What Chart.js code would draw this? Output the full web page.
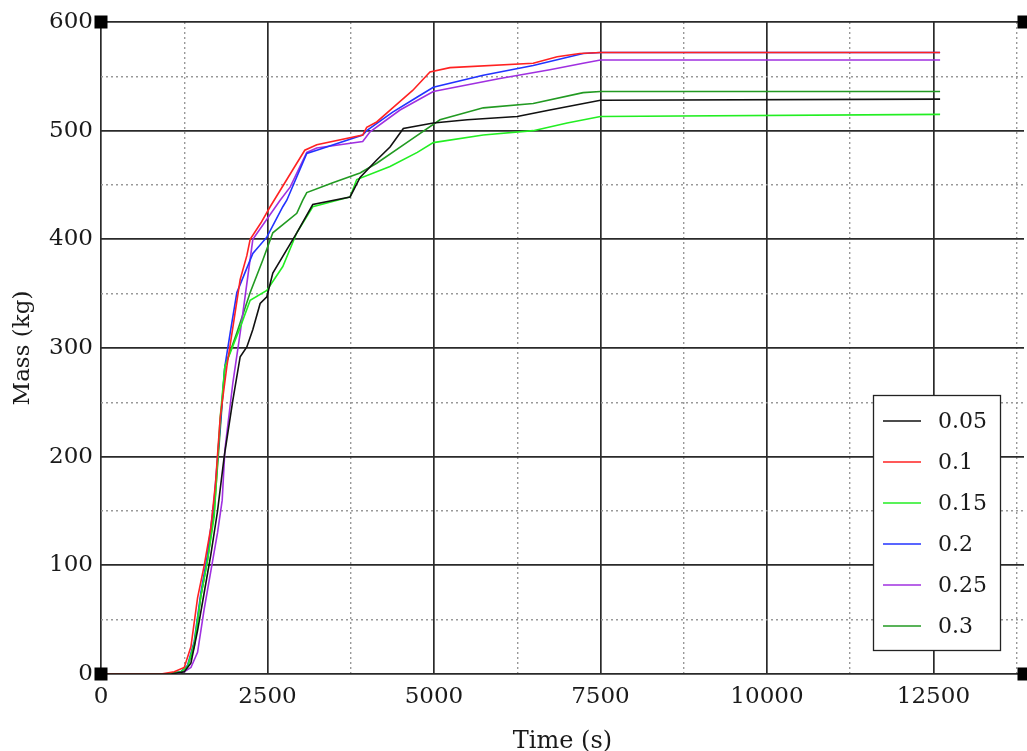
<!DOCTYPE html>
<html>
<head>
<meta charset="utf-8">
<script src="https://cdn.jsdelivr.net/npm/chart.js@4.4.1/dist/chart.umd.min.js"></script>
<style>
  html, body { margin: 0; padding: 0; background: #fff; }
  #wrap { width: 1027px; height: 751px; }
</style>
</head>
<body>
<div id="wrap"><canvas id="massa"></canvas></div>
<script>
// series labels
const labels = ['0.05', '0.1', '0.15', '0.2', '0.25', '0.3'];
const colors = ['#111111', '#ff2222', '#22ee22', '#2233ff', '#a030e0', '#229a22'];

// time (s) / mass (kg)
const t05 = [0, 1050, 1250, 1350, 1450, 1550, 1650, 1750, 1850, 1980, 2090, 2190, 2280, 2390, 2490, 2580, 2940, 3180, 3740, 3890, 4140, 4340, 4540, 4990, 5500, 6250, 6740, 7500, 12600];
const m05 = [0, 0, 2, 10, 40, 75, 110, 150, 200, 252, 292, 301, 317, 341, 347, 369, 406, 432, 439, 457, 473, 485, 502, 507, 510, 513, 519, 528, 529];

const t10 = [0, 900, 1100, 1250, 1350, 1450, 1550, 1650, 1720, 1790, 1890, 1980, 2090, 2190, 2240, 2400, 2540, 2880, 3060, 3240, 3930, 3990, 4140, 4380, 4680, 4940, 5240, 6490, 6850, 7190, 7500, 12600];
const m10 = [0, 0, 2, 6, 25, 70, 100, 135, 176, 236, 283, 319, 363, 385, 400, 415, 430, 464, 482, 487, 496, 503, 508, 521, 537, 554, 558, 562, 568, 571, 572, 572];

const t15 = [0, 1000, 1200, 1300, 1400, 1500, 1600, 1700, 1790, 1860, 2090, 2240, 2490, 2730, 2940, 3180, 3740, 3840, 4340, 4750, 4990, 5740, 6490, 7000, 7500, 12600];
const m15 = [0, 0, 2, 7, 28, 72, 105, 145, 236, 283, 319, 344, 353, 375, 406, 430, 439, 455, 467, 480, 489, 496, 500, 507, 513, 515];

const t20 = [0, 1000, 1200, 1300, 1400, 1500, 1600, 1700, 1860, 1940, 2040, 2280, 2490, 2730, 2790, 3090, 3240, 3930, 3990, 4380, 4750, 4990, 5740, 6490, 7240, 7500, 12600];
const m20 = [0, 0, 2, 8, 30, 75, 110, 160, 283, 314, 351, 387, 402, 430, 436, 479, 482, 496, 500, 517, 531, 540, 551, 560, 571, 572, 572];

const t25 = [0, 1050, 1250, 1350, 1450, 1550, 1650, 1750, 1820, 1860, 1980, 2090, 2280, 2690, 2840, 3090, 3240, 3930, 4040, 4490, 4990, 5990, 6740, 7240, 7500, 12600];
const m25 = [0, 0, 2, 6, 20, 60, 95, 130, 160, 206, 268, 314, 400, 436, 448, 480, 484, 490, 499, 519, 536, 548, 556, 562, 565, 565];

const t30 = [0, 1000, 1200, 1300, 1400, 1500, 1600, 1700, 1860, 2040, 2240, 2430, 2580, 2940, 3030, 3090, 3480, 3890, 4140, 4640, 5090, 5740, 6490, 7240, 7500, 12600];
const m30 = [0, 0, 2, 7, 25, 72, 105, 150, 283, 314, 351, 381, 406, 424, 436, 443, 452, 461, 470, 491, 510, 521, 525, 535, 536, 536];

const tempos = [t05, t10, t15, t20, t25, t30];
const massas = [m05, m10, m15, m20, m25, m30];

const fonte = '"DejaVu Serif", "Liberation Serif", serif';

function pares(ts, ms) {
  return ts.map((t, i) => ({ x: t, y: ms[i] }));
}

// marcadores pretos nos cantos + legenda dentro do grafico
const cantos = {
  id: 'cantos',
  afterDraw(chart) {
    const ctx = chart.ctx;
    const a = chart.chartArea;
    ctx.save();
    ctx.fillStyle = '#000';
    const s = 13;
    [[a.left, a.top], [a.left, a.bottom], [a.right, a.top], [a.right, a.bottom]].forEach(p => {
      ctx.fillRect(p[0] - s / 2, p[1] - s / 2, s, s);
    });

    // legenda
    const bx = 873, by = 395, bw = 127, bh = 255;
    ctx.fillStyle = '#fff';
    ctx.fillRect(bx, by, bw, bh);
    ctx.strokeStyle = '#222';
    ctx.lineWidth = 1.3;
    ctx.strokeRect(bx + 0.5, by + 0.5, bw, bh);
    ctx.font = '22px ' + fonte;
    ctx.textBaseline = 'middle';
    chart.data.datasets.forEach((ds, i) => {
      const y = by + 26 + i * 41;
      ctx.strokeStyle = ds.borderColor;
      ctx.lineWidth = 1.5;
      ctx.beginPath();
      ctx.moveTo(bx + 10, y);
      ctx.lineTo(bx + 48, y);
      ctx.stroke();
      ctx.fillStyle = '#1a1a1a';
      ctx.fillText(ds.label, bx + 65, y + 1);
    });
    ctx.restore();
  }
};

new Chart(document.getElementById('massa'), {
  type: 'line',
  data: {
    datasets: labels.map((l, i) => ({
      label: l,
      data: pares(tempos[i], massas[i]),
      borderColor: colors[i],
      borderWidth: 1.6,
      pointRadius: 0,
      tension: 0,
      fill: false,
    })),
  },
  options: {
    responsive: true,
    maintainAspectRatio: false,
    animation: false,
    layout: { padding: { top: 22, right: 3, left: 0, bottom: 0 } },
    plugins: {
      legend: { display: false },
      tooltip: { enabled: false },
    },
    scales: {
      x: {
        type: 'linear',
        min: 0,
        max: 13860,
        afterBuildTicks(scale) {
          const v = [];
          for (let k = 0; k <= 13750; k += 1250) v.push({ value: k });
          scale.ticks = v;
        },
        afterFit(scale) { scale.height = 77; },
        ticks: {
          autoSkip: false,
          maxRotation: 0,
          padding: 9,
          color: '#1a1a1a',
          font: { family: fonte, size: 23 },
          callback: (v) => (v % 2500 === 0 ? v : ''),
        },
        grid: {
          drawTicks: false,
          color: (c) => (c.tick && c.tick.value % 2500 === 0 ? '#2a2a2a' : '#999'),
          lineWidth: (c) => (c.tick && c.tick.value % 2500 === 0 ? 1.7 : 1.4),
        },
        border: {
          display: false,
          dash: (c) => (c.tick && c.tick.value % 2500 === 0 ? [] : [2, 3]),
        },
        title: {
          display: true,
          text: 'Time (s)',
          color: '#1a1a1a',
          font: { family: fonte, size: 24 },
          padding: { top: 7, bottom: -5 },
        },
      },
      y: {
        min: 0,
        max: 600,
        afterBuildTicks(scale) {
          const v = [];
          for (let k = 0; k <= 600; k += 50) v.push({ value: k });
          scale.ticks = v;
        },
        afterFit(scale) { scale.width = 101; },
        ticks: {
          autoSkip: false,
          padding: 8,
          color: '#1a1a1a',
          font: { family: fonte, size: 23 },
          callback: (v) => (v % 100 === 0 ? v : ''),
        },
        grid: {
          drawTicks: false,
          color: (c) => (c.tick && c.tick.value % 100 === 0 ? '#2a2a2a' : '#999'),
          lineWidth: (c) => (c.tick && c.tick.value % 100 === 0 ? 1.7 : 1.4),
        },
        border: {
          display: false,
          dash: (c) => (c.tick && c.tick.value % 100 === 0 ? [] : [2, 3]),
        },
        title: {
          display: true,
          text: 'Mass (kg)',
          color: '#1a1a1a',
          font: { family: fonte, size: 23 },
          padding: { top: 9, bottom: 2 },
        },
      },
    },
  },
  plugins: [cantos],
});
</script>
</body>
</html>
